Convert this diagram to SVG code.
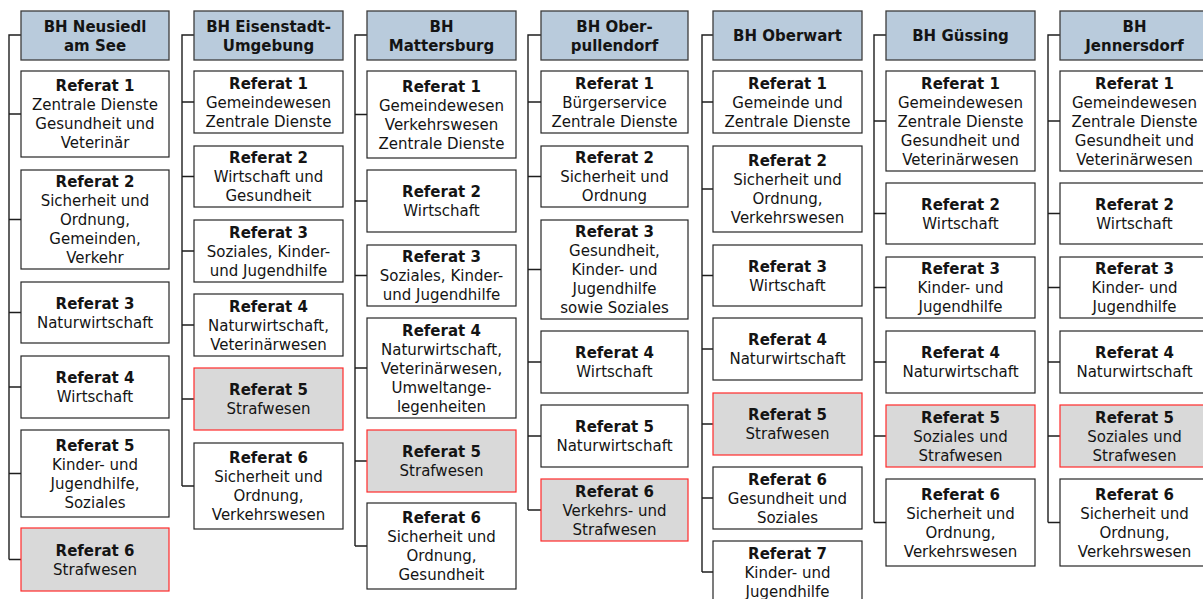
<svg xmlns="http://www.w3.org/2000/svg" width="1203" height="599" viewBox="0 0 1203 599">
<style>
.hdr{fill:#B9CBDC;stroke:#3c3c3c;stroke-width:1.3}
.box{fill:#FFFFFF;stroke:#262626;stroke-width:1.2}
.red{fill:#D9D9D9;stroke:#FF2A2A;stroke-width:1.2}
text{font-family:"DejaVu Sans","Verdana",sans-serif;font-size:15px;fill:#141414;text-anchor:middle}
.b{font-weight:bold}
.con{fill:none;stroke:#1e1e1e;stroke-width:1.4}
</style>
<rect width="1203" height="599" fill="#FFFFFF"/>
<g id="connectors" class="con">
<path d="M21,35H9V559.5M9,114H21M9,219.5H21M9,312.5H21M9,387H21M9,473.5H21M9,559.5H21"/>
<path d="M194,35H182V486M182,102H194M182,176.5H194M182,251H194M182,325H194M182,399H194M182,486H194"/>
<path d="M367,35H355V546M355,114.5H367M355,201H367M355,275.5H367M355,368H367M355,461H367M355,546H367"/>
<path d="M541,35H528V510M528,102H541M528,176.5H541M528,269.5H541M528,362H541M528,436H541M528,510H541"/>
<path d="M713,35H702V572M702,102H713M702,189H713M702,275.5H713M702,349H713M702,424H713M702,498H713M702,572H713"/>
<path d="M886,35H874V522.5M874,121H886M874,213.5H886M874,287.5H886M874,362H886M874,436H886M874,522.5H886"/>
<path d="M1060,35H1048V522.5M1048,121H1060M1048,213.5H1060M1048,287.5H1060M1048,362H1060M1048,436H1060M1048,522.5H1060"/>
</g>

<g id="col1">
<g id="h1"><rect class="hdr" x="21" y="11" width="148" height="49"/><text class="b" x="95" y="31.5">BH Neusiedl<tspan x="95" dy="19">am See</tspan></text></g>
<g id="c1r1"><rect class="box" x="21" y="71" width="148" height="86"/><text x="95" y="91"><tspan class="b">Referat 1</tspan><tspan x="95" dy="19">Zentrale Dienste</tspan><tspan x="95" dy="19">Gesundheit und</tspan><tspan x="95" dy="19">Veterinär</tspan></text></g>
<g id="c1r2"><rect class="box" x="21" y="170" width="148" height="99"/><text x="95" y="187"><tspan class="b">Referat 2</tspan><tspan x="95" dy="19">Sicherheit und</tspan><tspan x="95" dy="19">Ordnung,</tspan><tspan x="95" dy="19">Gemeinden,</tspan><tspan x="95" dy="19">Verkehr</tspan></text></g>
<g id="c1r3"><rect class="box" x="21" y="282" width="148" height="61"/><text x="95" y="308.5"><tspan class="b">Referat 3</tspan><tspan x="95" dy="19">Naturwirtschaft</tspan></text></g>
<g id="c1r4"><rect class="box" x="21" y="356" width="148" height="62"/><text x="95" y="383"><tspan class="b">Referat 4</tspan><tspan x="95" dy="19">Wirtschaft</tspan></text></g>
<g id="c1r5"><rect class="box" x="21" y="430" width="148" height="87"/><text x="95" y="450.5"><tspan class="b">Referat 5</tspan><tspan x="95" dy="19">Kinder- und</tspan><tspan x="95" dy="19">Jugendhilfe,</tspan><tspan x="95" dy="19">Soziales</tspan></text></g>
<g id="c1r6"><rect class="red" x="21" y="528" width="148" height="63"/><text x="95" y="555.5"><tspan class="b">Referat 6</tspan><tspan x="95" dy="19">Strafwesen</tspan></text></g>
</g>

<g id="col2">
<g id="h2"><rect class="hdr" x="194" y="11" width="149" height="49"/><text class="b" x="268.5" y="31.5">BH Eisenstadt-<tspan x="268.5" dy="19">Umgebung</tspan></text></g>
<g id="c2r1"><rect class="box" x="194" y="71" width="149" height="62"/><text x="268.5" y="88.5"><tspan class="b">Referat 1</tspan><tspan x="268.5" dy="19">Gemeindewesen</tspan><tspan x="268.5" dy="19">Zentrale Dienste</tspan></text></g>
<g id="c2r2"><rect class="box" x="194" y="146" width="149" height="61"/><text x="268.5" y="163"><tspan class="b">Referat 2</tspan><tspan x="268.5" dy="19">Wirtschaft und</tspan><tspan x="268.5" dy="19">Gesundheit</tspan></text></g>
<g id="c2r3"><rect class="box" x="194" y="220" width="149" height="62"/><text x="268.5" y="237.5"><tspan class="b">Referat 3</tspan><tspan x="268.5" dy="19">Soziales, Kinder-</tspan><tspan x="268.5" dy="19">und Jugendhilfe</tspan></text></g>
<g id="c2r4"><rect class="box" x="194" y="294" width="149" height="62"/><text x="268.5" y="311.5"><tspan class="b">Referat 4</tspan><tspan x="268.5" dy="19">Naturwirtschaft,</tspan><tspan x="268.5" dy="19">Veterinärwesen</tspan></text></g>
<g id="c2r5"><rect class="red" x="194" y="368" width="149" height="62"/><text x="268.5" y="395"><tspan class="b">Referat 5</tspan><tspan x="268.5" dy="19">Strafwesen</tspan></text></g>
<g id="c2r6"><rect class="box" x="194" y="443" width="149" height="86"/><text x="268.5" y="463"><tspan class="b">Referat 6</tspan><tspan x="268.5" dy="19">Sicherheit und</tspan><tspan x="268.5" dy="19">Ordnung,</tspan><tspan x="268.5" dy="19">Verkehrswesen</tspan></text></g>
</g>

<g id="col3">
<g id="h3"><rect class="hdr" x="367" y="11" width="149" height="49"/><text class="b" x="441.5" y="31.5">BH<tspan x="441.5" dy="19">Mattersburg</tspan></text></g>
<g id="c3r1"><rect class="box" x="367" y="71" width="149" height="87"/><text x="441.5" y="91.5"><tspan class="b">Referat 1</tspan><tspan x="441.5" dy="19">Gemeindewesen</tspan><tspan x="441.5" dy="19">Verkehrswesen</tspan><tspan x="441.5" dy="19">Zentrale Dienste</tspan></text></g>
<g id="c3r2"><rect class="box" x="367" y="170" width="149" height="62"/><text x="441.5" y="197"><tspan class="b">Referat 2</tspan><tspan x="441.5" dy="19">Wirtschaft</tspan></text></g>
<g id="c3r3"><rect class="box" x="367" y="245" width="149" height="61"/><text x="441.5" y="262"><tspan class="b">Referat 3</tspan><tspan x="441.5" dy="19">Soziales, Kinder-</tspan><tspan x="441.5" dy="19">und Jugendhilfe</tspan></text></g>
<g id="c3r4"><rect class="box" x="367" y="318" width="149" height="100"/><text x="441.5" y="335.5"><tspan class="b">Referat 4</tspan><tspan x="441.5" dy="19">Naturwirtschaft,</tspan><tspan x="441.5" dy="19">Veterinärwesen,</tspan><tspan x="441.5" dy="19">Umweltange-</tspan><tspan x="441.5" dy="19">legenheiten</tspan></text></g>
<g id="c3r5"><rect class="red" x="367" y="430" width="149" height="62"/><text x="441.5" y="457"><tspan class="b">Referat 5</tspan><tspan x="441.5" dy="19">Strafwesen</tspan></text></g>
<g id="c3r6"><rect class="box" x="367" y="503" width="149" height="86"/><text x="441.5" y="523"><tspan class="b">Referat 6</tspan><tspan x="441.5" dy="19">Sicherheit und</tspan><tspan x="441.5" dy="19">Ordnung,</tspan><tspan x="441.5" dy="19">Gesundheit</tspan></text></g>
</g>

<g id="col4">
<g id="h4"><rect class="hdr" x="541" y="11" width="147" height="49"/><text class="b" x="614.5" y="31.5">BH Ober-<tspan x="614.5" dy="19">pullendorf</tspan></text></g>
<g id="c4r1"><rect class="box" x="541" y="71" width="147" height="62"/><text x="614.5" y="88.5"><tspan class="b">Referat 1</tspan><tspan x="614.5" dy="19">Bürgerservice</tspan><tspan x="614.5" dy="19">Zentrale Dienste</tspan></text></g>
<g id="c4r2"><rect class="box" x="541" y="146" width="147" height="61"/><text x="614.5" y="163"><tspan class="b">Referat 2</tspan><tspan x="614.5" dy="19">Sicherheit und</tspan><tspan x="614.5" dy="19">Ordnung</tspan></text></g>
<g id="c4r3"><rect class="box" x="541" y="220" width="147" height="99"/><text x="614.5" y="237"><tspan class="b">Referat 3</tspan><tspan x="614.5" dy="19">Gesundheit,</tspan><tspan x="614.5" dy="19">Kinder- und</tspan><tspan x="614.5" dy="19">Jugendhilfe</tspan><tspan x="614.5" dy="19">sowie Soziales</tspan></text></g>
<g id="c4r4"><rect class="box" x="541" y="331" width="147" height="62"/><text x="614.5" y="358"><tspan class="b">Referat 4</tspan><tspan x="614.5" dy="19">Wirtschaft</tspan></text></g>
<g id="c4r5"><rect class="box" x="541" y="405" width="147" height="62"/><text x="614.5" y="432"><tspan class="b">Referat 5</tspan><tspan x="614.5" dy="19">Naturwirtschaft</tspan></text></g>
<g id="c4r6"><rect class="red" x="541" y="479" width="147" height="62"/><text x="614.5" y="496.5"><tspan class="b">Referat 6</tspan><tspan x="614.5" dy="19">Verkehrs- und</tspan><tspan x="614.5" dy="19">Strafwesen</tspan></text></g>
</g>

<g id="col5">
<g id="h5"><rect class="hdr" x="713" y="11" width="149" height="49"/><text class="b" x="787.5" y="41">BH Oberwart</text></g>
<g id="c5r1"><rect class="box" x="713" y="71" width="149" height="62"/><text x="787.5" y="88.5"><tspan class="b">Referat 1</tspan><tspan x="787.5" dy="19">Gemeinde und</tspan><tspan x="787.5" dy="19">Zentrale Dienste</tspan></text></g>
<g id="c5r2"><rect class="box" x="713" y="146" width="149" height="86"/><text x="787.5" y="166"><tspan class="b">Referat 2</tspan><tspan x="787.5" dy="19">Sicherheit und</tspan><tspan x="787.5" dy="19">Ordnung,</tspan><tspan x="787.5" dy="19">Verkehrswesen</tspan></text></g>
<g id="c5r3"><rect class="box" x="713" y="245" width="149" height="61"/><text x="787.5" y="271.5"><tspan class="b">Referat 3</tspan><tspan x="787.5" dy="19">Wirtschaft</tspan></text></g>
<g id="c5r4"><rect class="box" x="713" y="318" width="149" height="62"/><text x="787.5" y="345"><tspan class="b">Referat 4</tspan><tspan x="787.5" dy="19">Naturwirtschaft</tspan></text></g>
<g id="c5r5"><rect class="red" x="713" y="393" width="149" height="62"/><text x="787.5" y="420"><tspan class="b">Referat 5</tspan><tspan x="787.5" dy="19">Strafwesen</tspan></text></g>
<g id="c5r6"><rect class="box" x="713" y="467" width="149" height="62"/><text x="787.5" y="484.5"><tspan class="b">Referat 6</tspan><tspan x="787.5" dy="19">Gesundheit und</tspan><tspan x="787.5" dy="19">Soziales</tspan></text></g>
<g id="c5r7"><rect class="box" x="713" y="541" width="149" height="62"/><text x="787.5" y="558.5"><tspan class="b">Referat 7</tspan><tspan x="787.5" dy="19">Kinder- und</tspan><tspan x="787.5" dy="19">Jugendhilfe</tspan></text></g>
</g>

<g id="col6">
<g id="h6"><rect class="hdr" x="886" y="11" width="149" height="49"/><text class="b" x="960.5" y="41">BH Güssing</text></g>
<g id="c6r1"><rect class="box" x="886" y="71" width="149" height="100"/><text x="960.5" y="88.5"><tspan class="b">Referat 1</tspan><tspan x="960.5" dy="19">Gemeindewesen</tspan><tspan x="960.5" dy="19">Zentrale Dienste</tspan><tspan x="960.5" dy="19">Gesundheit und</tspan><tspan x="960.5" dy="19">Veterinärwesen</tspan></text></g>
<g id="c6r2"><rect class="box" x="886" y="183" width="149" height="61"/><text x="960.5" y="209.5"><tspan class="b">Referat 2</tspan><tspan x="960.5" dy="19">Wirtschaft</tspan></text></g>
<g id="c6r3"><rect class="box" x="886" y="257" width="149" height="61"/><text x="960.5" y="274"><tspan class="b">Referat 3</tspan><tspan x="960.5" dy="19">Kinder- und</tspan><tspan x="960.5" dy="19">Jugendhilfe</tspan></text></g>
<g id="c6r4"><rect class="box" x="886" y="331" width="149" height="62"/><text x="960.5" y="358"><tspan class="b">Referat 4</tspan><tspan x="960.5" dy="19">Naturwirtschaft</tspan></text></g>
<g id="c6r5"><rect class="red" x="886" y="405" width="149" height="62"/><text x="960.5" y="422.5"><tspan class="b">Referat 5</tspan><tspan x="960.5" dy="19">Soziales und</tspan><tspan x="960.5" dy="19">Strafwesen</tspan></text></g>
<g id="c6r6"><rect class="box" x="886" y="479" width="149" height="87"/><text x="960.5" y="499.5"><tspan class="b">Referat 6</tspan><tspan x="960.5" dy="19">Sicherheit und</tspan><tspan x="960.5" dy="19">Ordnung,</tspan><tspan x="960.5" dy="19">Verkehrswesen</tspan></text></g>
</g>

<g id="col7">
<g id="h7"><rect class="hdr" x="1060" y="11" width="149" height="49"/><text class="b" x="1134.5" y="31.5">BH<tspan x="1134.5" dy="19">Jennersdorf</tspan></text></g>
<g id="c7r1"><rect class="box" x="1060" y="71" width="149" height="100"/><text x="1134.5" y="88.5"><tspan class="b">Referat 1</tspan><tspan x="1134.5" dy="19">Gemeindewesen</tspan><tspan x="1134.5" dy="19">Zentrale Dienste</tspan><tspan x="1134.5" dy="19">Gesundheit und</tspan><tspan x="1134.5" dy="19">Veterinärwesen</tspan></text></g>
<g id="c7r2"><rect class="box" x="1060" y="183" width="149" height="61"/><text x="1134.5" y="209.5"><tspan class="b">Referat 2</tspan><tspan x="1134.5" dy="19">Wirtschaft</tspan></text></g>
<g id="c7r3"><rect class="box" x="1060" y="257" width="149" height="61"/><text x="1134.5" y="274"><tspan class="b">Referat 3</tspan><tspan x="1134.5" dy="19">Kinder- und</tspan><tspan x="1134.5" dy="19">Jugendhilfe</tspan></text></g>
<g id="c7r4"><rect class="box" x="1060" y="331" width="149" height="62"/><text x="1134.5" y="358"><tspan class="b">Referat 4</tspan><tspan x="1134.5" dy="19">Naturwirtschaft</tspan></text></g>
<g id="c7r5"><rect class="red" x="1060" y="405" width="149" height="62"/><text x="1134.5" y="422.5"><tspan class="b">Referat 5</tspan><tspan x="1134.5" dy="19">Soziales und</tspan><tspan x="1134.5" dy="19">Strafwesen</tspan></text></g>
<g id="c7r6"><rect class="box" x="1060" y="479" width="149" height="87"/><text x="1134.5" y="499.5"><tspan class="b">Referat 6</tspan><tspan x="1134.5" dy="19">Sicherheit und</tspan><tspan x="1134.5" dy="19">Ordnung,</tspan><tspan x="1134.5" dy="19">Verkehrswesen</tspan></text></g>
</g>
</svg>
